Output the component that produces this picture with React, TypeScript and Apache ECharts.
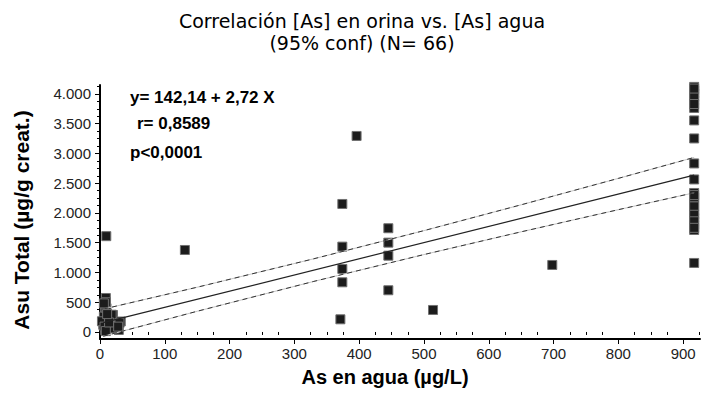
import { useEffect, useRef } from 'react';
import * as echarts from 'echarts';

// ---- texts ----
const titleLines = ['Correlación [As] en orina vs. [As] agua', '(95% conf) (N= 66)'];
const xAxisTitle = 'As en agua (µg/L)';
const yAxisTitle = 'Asu Total (µg/g creat.)';
const statsLines = ['y= 142,14 + 2,72 X', 'r= 0,8589', 'p<0,0001'];

// ---- axes ----
const xMin = 0;
const xMax = 926;
const xTickValues = [0, 100, 200, 300, 400, 500, 600, 700, 800, 900];
const xMinorTickValues = [25, 50, 75, 125, 150, 175, 225, 250, 275, 325, 350, 375, 425, 450, 475, 525, 550, 575, 625, 650, 675, 725, 750, 775, 825, 850, 875, 925];
const yMin = -118;
const yMax = 4150;
const yTickValues = [0, 500, 1000, 1500, 2000, 2500, 3000, 3500, 4000];
const yMinorTickValues = [125, 250, 375, 625, 750, 875, 1125, 1250, 1375, 1625, 1750, 1875, 2125, 2250, 2375, 2625, 2750, 2875, 3125, 3250, 3375, 3625, 3750, 3875, 4125];

// ---- data (As en agua, Asu total) ----
const lowX = [9.7, 9, 9, 8, 20, 32, 10, 29, 8, 18, 5, 6, 10, 12, 15, 25, 8, 9, 3, 18, 22, 30, 7, 9, 14, 28, 6, 11];
const lowY = [1610, 571, 454, 336, 286, 176, 50, 34, 200, 118, 120, 260, 400, 80, 220, 100, 30, 500, 180, 290, 60, 150, 90, 15, 160, 90, 480, 300];
const midX = [131, 396, 374, 374, 374, 374, 371, 445, 445, 445, 445, 514, 698];
const midY = [1378, 3294, 2151, 1434, 1059, 835, 213, 1743, 1501, 1282, 701, 370, 1126];
const highX = [917, 917, 917, 917, 917, 917, 917, 917, 917, 917, 917, 917, 917, 917, 917, 917, 917, 917, 917, 917, 917, 917, 917, 917, 917];
const highY = [4118, 4008, 3899, 3765, 3555, 3252, 2832, 2563, 2336, 2185, 2034, 1916, 1798, 1714, 1160, 4060, 3950, 3830, 2260, 2110, 1970, 1860, 1750, 4090, 2300];

// regression line and 95% confidence band
const fitX = [5, 917];
const fitY = [156, 2636];
const bandX = [5, 150, 330, 500, 650, 800, 917];
const upperY = [384, 752, 1230, 1703, 2137, 2581, 2933];
const lowerY = [-72, 348, 850, 1301, 1683, 2055, 2339];

const pairs = (xs: number[], ys: number[]) => xs.map((x, i) => [x, ys[i]]);
const fmtY = (v: number) =>
  v >= 1000 ? `${Math.floor(v / 1000)}.${String(v % 1000).padStart(3, '0')}` : String(v);

export default function App() {
  const ref = useRef<HTMLDivElement>(null);
  useEffect(() => {
    document.body.style.margin = '0';
    const chart = echarts.init(ref.current!, null, { renderer: 'svg' });
    const points = [...pairs(lowX, lowY), ...pairs(midX, midY), ...pairs(highX, highY)];
    const labelFont = { fontFamily: 'Liberation Sans', fontSize: 15, color: '#222' };
    chart.setOption({
      animation: false,
      backgroundColor: '#ffffff',
      grid: { left: 100, right: 1, top: 85, bottom: 56, containLabel: false, outerBoundsMode: 'none' },
      xAxis: [
        {
          type: 'value',
          min: xMin,
          max: xMax,
          position: 'bottom',
          name: xAxisTitle,
          nameLocation: 'middle',
          nameGap: 28,
          nameTextStyle: { fontFamily: 'Liberation Sans', fontWeight: 'bold', fontSize: 20, color: '#000', padding: [0, 30, 0, 0] },
          axisLine: { show: true, onZero: false, lineStyle: { color: '#000', width: 2 } },
          axisTick: { show: true, customValues: xTickValues, length: 5, lineStyle: { color: '#000', width: 1 } },
          axisLabel: { show: true, customValues: xTickValues, margin: 7, ...labelFont },
          splitLine: { show: false },
        },
        {
          type: 'value',
          min: xMin,
          max: xMax,
          position: 'bottom',
          axisLine: { show: false },
          axisTick: { show: true, customValues: xMinorTickValues, length: 3, lineStyle: { color: '#000', width: 1 } },
          axisLabel: { show: false },
          splitLine: { show: false },
        },
      ],
      yAxis: [
        {
          type: 'value',
          min: yMin,
          max: yMax,
          position: 'left',
          name: yAxisTitle,
          nameLocation: 'middle',
          nameGap: 68,
          nameRotate: 90,
          nameTextStyle: { fontFamily: 'Liberation Sans', fontWeight: 'bold', fontSize: 21, color: '#000', padding: [0, 16, 0, 0] },
          axisLine: { show: true, onZero: false, lineStyle: { color: '#000', width: 2 } },
          axisTick: { show: true, customValues: yTickValues, length: 5, lineStyle: { color: '#000', width: 1 } },
          axisLabel: { show: true, customValues: yTickValues, margin: 9, formatter: fmtY, ...labelFont },
          splitLine: { show: false },
        },
        {
          type: 'value',
          min: yMin,
          max: yMax,
          position: 'left',
          axisLine: { show: false },
          axisTick: { show: true, customValues: yMinorTickValues, length: 3, lineStyle: { color: '#000', width: 1 } },
          axisLabel: { show: false },
          splitLine: { show: false },
        },
      ],
      series: [
        {
          type: 'scatter',
          data: points,
          symbol: 'rect',
          symbolSize: 9,
          itemStyle: { color: '#1c1c1c', borderColor: '#707070', borderWidth: 1, opacity: 1 },
          z: 2,
        },
        {
          type: 'line',
          data: pairs(fitX, fitY),
          symbol: 'none',
          lineStyle: { color: '#222', width: 1.2 },
          z: 4,
        },
        {
          type: 'line',
          data: pairs(bandX, upperY),
          symbol: 'none',
          lineStyle: { color: '#c4c4c4', width: 1 },
          z: 3,
        },
        {
          type: 'line',
          data: pairs(bandX, upperY),
          symbol: 'none',
          lineStyle: { color: '#333', width: 1, type: [5, 4] },
          z: 4,
        },
        {
          type: 'line',
          data: pairs(bandX, lowerY),
          symbol: 'none',
          lineStyle: { color: '#c4c4c4', width: 1 },
          z: 3,
        },
        {
          type: 'line',
          data: pairs(bandX, lowerY),
          symbol: 'none',
          lineStyle: { color: '#333', width: 1, type: [5, 4] },
          z: 4,
        },
      ],
      graphic: [
        {
          type: 'text',
          x: 362,
          y: 21,
          style: {
            text: titleLines[0],
            fontFamily: 'DejaVu Sans',
            fontSize: 19,
            fill: '#000',
            textAlign: 'center',
            textVerticalAlign: 'middle',
            align: 'center',
            verticalAlign: 'middle',
          },
        },
        {
          type: 'text',
          x: 362,
          y: 43,
          style: {
            text: titleLines[1],
            fontFamily: 'DejaVu Sans',
            fontSize: 19,
            fill: '#000',
            textAlign: 'center',
            textVerticalAlign: 'middle',
            align: 'center',
            verticalAlign: 'middle',
          },
        },
        ...statsLines.map((t, i) => ({
          type: 'text',
          x: [130, 137, 130][i],
          y: [97, 123, 152][i],
          style: {
            text: t,
            fontFamily: 'Liberation Sans',
            fontWeight: 'bold',
            fontSize: 17,
            fill: '#000',
            textAlign: 'left',
            textVerticalAlign: 'middle',
            align: 'left',
            verticalAlign: 'middle',
          },
        })),
      ],
    });
    return () => chart.dispose();
  }, []);
  return <div ref={ref} style={{ width: 701, height: 395 }} />;
}
